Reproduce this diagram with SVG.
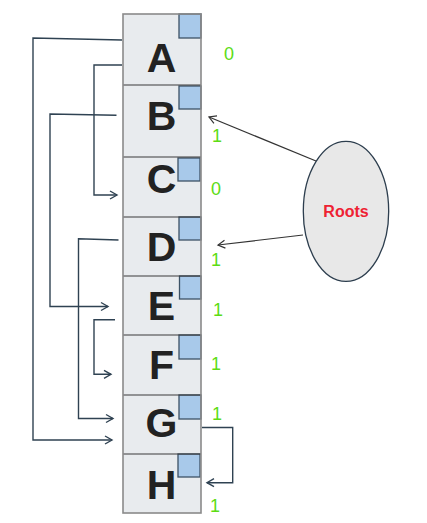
<svg xmlns="http://www.w3.org/2000/svg" width="427" height="523" viewBox="0 0 427 523">
<style>
.cell{fill:#e8ebee;stroke:none}
.sep{stroke:#3a3a3a;stroke-width:1.2}
.box{fill:#a8c9ea;stroke:#3c5266;stroke-width:1.3}
.lt{font-family:"Liberation Sans",Arial,sans-serif;font-weight:bold;font-size:41px;fill:#222;text-anchor:middle}
.cnt{font-family:"Liberation Sans",Arial,sans-serif;font-size:18px;fill:#5cdc14}
.con{fill:none;stroke:#2f4252;stroke-width:1.4}
.rc{fill:none;stroke:#333;stroke-width:1.2}
</style>
<defs>
<marker id="ah" markerUnits="userSpaceOnUse" markerWidth="12" markerHeight="12" refX="8" refY="6" orient="auto" overflow="visible">
<path d="M1,2 L8,6 L1,10" fill="none" stroke="#2f4252" stroke-width="1.4"/>
</marker>
<marker id="ah2" markerUnits="userSpaceOnUse" markerWidth="12" markerHeight="12" refX="8" refY="6" orient="auto" overflow="visible">
<path d="M1,2 L8,6 L1,10" fill="none" stroke="#333" stroke-width="1.2"/>
</marker>
</defs>
<g id="A"><rect class="cell" x="123" y="14" width="78" height="71"/><rect class="box" x="179" y="14" width="22" height="24"/><text class="lt" x="161.5" y="72">A</text></g>
<g id="B"><rect class="cell" x="123" y="85" width="78" height="72"/><rect class="box" x="179" y="86" width="22" height="23"/><text class="lt" x="161.5" y="130">B</text></g>
<g id="C"><rect class="cell" x="123" y="157" width="78" height="60"/><rect class="box" x="178" y="158" width="22" height="23"/><text class="lt" x="161.5" y="193">C</text></g>
<g id="D"><rect class="cell" x="123" y="217" width="78" height="59"/><rect class="box" x="179" y="217" width="22" height="23"/><text class="lt" x="161.5" y="261">D</text></g>
<g id="E"><rect class="cell" x="123" y="276" width="78" height="59"/><rect class="box" x="179.5" y="276" width="21.5" height="23"/><text class="lt" x="161.5" y="320">E</text></g>
<g id="F"><rect class="cell" x="123" y="335" width="78" height="60"/><rect class="box" x="179" y="335" width="22" height="24"/><text class="lt" x="161.5" y="379">F</text></g>
<g id="G"><rect class="cell" x="123" y="395" width="78" height="59"/><rect class="box" x="179" y="395" width="22" height="24"/><text class="lt" x="161.5" y="437">G</text></g>
<g id="H"><rect class="cell" x="123" y="454" width="78" height="59"/><rect class="box" x="178" y="454" width="22" height="23"/><text class="lt" x="161.5" y="499">H</text></g>
<g id="frame">
<line class="sep" x1="123" y1="85" x2="201" y2="85"/>
<line class="sep" x1="123" y1="157" x2="201" y2="157"/>
<line class="sep" x1="123" y1="217" x2="201" y2="217"/>
<line class="sep" x1="123" y1="276" x2="201" y2="276"/>
<line class="sep" x1="123" y1="335" x2="201" y2="335"/>
<line class="sep" x1="123" y1="395" x2="201" y2="395"/>
<line class="sep" x1="123" y1="454" x2="201" y2="454"/>
<rect x="123" y="14" width="78" height="499" fill="none" stroke="#8a8a8a" stroke-width="1.6"/>
</g>
<g id="counts">
<text class="cnt" x="224" y="60">0</text>
<text class="cnt" x="212" y="142">1</text>
<text class="cnt" x="211" y="195">0</text>
<text class="cnt" x="211" y="266">1</text>
<text class="cnt" x="213" y="316">1</text>
<text class="cnt" x="211" y="370">1</text>
<text class="cnt" x="212" y="420">1</text>
<text class="cnt" x="210" y="512">1</text>
</g>
<g id="roots"><ellipse cx="346" cy="211.3" rx="42.7" ry="70" fill="#e8e8e8" stroke="#2d3e4e" stroke-width="1.3"/><text x="346" y="217" font-family="Liberation Sans,Arial,sans-serif" font-weight="bold" font-size="16" fill="#ee2233" text-anchor="middle">Roots</text></g>
<g id="connectors">
<polyline class="con" points="122,40 33,38 33,440 112,440" marker-end="url(#ah)"/>
<polyline class="con" points="122,65 94,65 94,195 117,195" marker-end="url(#ah)"/>
<polyline class="con" points="116.5,115.3 50,114 50,306.5 108,306.5" marker-end="url(#ah)"/>
<polyline class="con" points="118.5,240 78.5,238.7 78.5,418.5 113,418.5" marker-end="url(#ah)"/>
<polyline class="con" points="115,319.7 94,319.7 94,374.3 111,374.3" marker-end="url(#ah)"/>
<polyline class="con" points="202,427.5 232.7,427.5 232.7,482.7 207,482.7" marker-end="url(#ah)"/>
<line class="rc" x1="316" y1="161" x2="209" y2="117" marker-end="url(#ah2)"/>
<line class="rc" x1="303" y1="235" x2="218" y2="245" marker-end="url(#ah2)"/>
</g>
</svg>
